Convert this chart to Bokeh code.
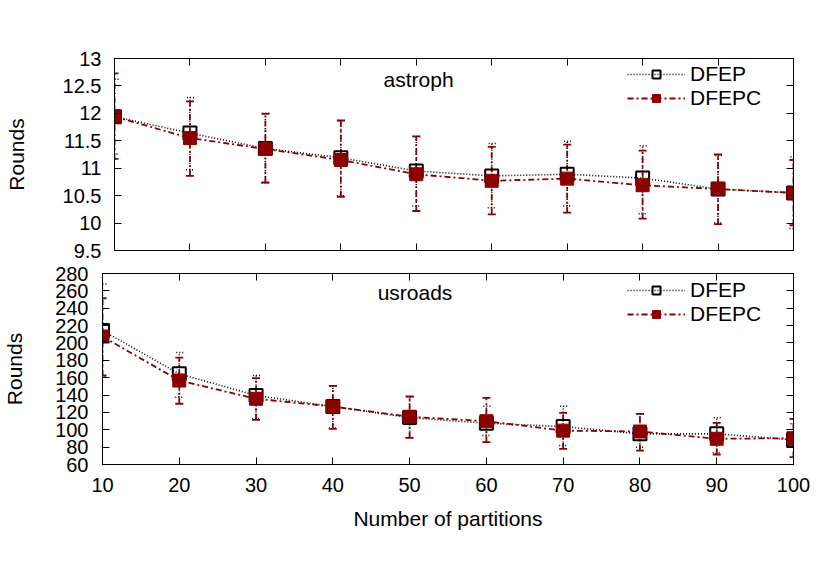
from bokeh.plotting import figure
from bokeh.models import (ColumnDataSource, Whisker, TeeHead, LinearAxis, FixedTicker,
                          CustomJSTickFormatter, Range1d, Label, Legend, LegendItem)
from bokeh.embed import file_html
from bokeh.resources import INLINE

# ---------------- data ----------------
partitions = [10, 20, 30, 40, 50, 60, 70, 80, 90, 100]
x_ticks = [10, 20, 30, 40, 50, 60, 70, 80, 90, 100]

# astroph
astro_dfep = [11.94, 11.64, 11.36, 11.19, 10.95, 10.86, 10.89, 10.82, 10.62, 10.55]
astro_dfep_hi = [12.62, 12.29, 12.00, 11.87, 11.58, 11.45, 11.49, 11.41, 11.23, 11.21]
astro_dfep_lo = [11.26, 10.97, 10.73, 10.50, 10.31, 10.28, 10.31, 10.17, 10.00, 9.90]
astro_dfepc = [11.94, 11.55, 11.35, 11.15, 10.89, 10.77, 10.81, 10.69, 10.62, 10.55]
astro_dfepc_hi = [12.73, 12.22, 11.99, 11.87, 11.58, 11.39, 11.43, 11.32, 11.25, 11.15]
astro_dfepc_lo = [11.17, 10.86, 10.74, 10.48, 10.22, 10.16, 10.19, 10.08, 9.98, 9.96]
astro_ticks = [9.5, 10, 10.5, 11, 11.5, 12, 12.5, 13]

# usroads
us_dfep = [214.3, 164.4, 139.5, 126.8, 114.0, 107.5, 103.7, 95.3, 95.3, 88.4]
us_dfep_hi = [268, 189, 162.5, 150, 138, 127, 127, 118, 113.8, 107]
us_dfep_lo = [161, 137.5, 113, 102, 91, 93.4, 81.8, 80, 73.5, 80]
us_dfepc = [207.4, 156.7, 135.7, 126.8, 115.0, 109.9, 99.0, 98.0, 89.6, 90.3]
us_dfepc_hi = [251.5, 183.2, 159.4, 150.6, 138.3, 136.8, 119.5, 118.4, 108, 112.6]
us_dfepc_lo = [162.5, 130, 111.5, 101, 90.7, 85.7, 78, 76, 71.5, 68.4]
us_ticks = [60, 80, 100, 120, 140, 160, 180, 200, 220, 240, 260, 280]

series_names = ["DFEP", "DFEPC"]

FONT = "Liberation Sans"
FS = "20px"
DARK_RED = "#8b0000"


def style_axis(ax, labels=True):
    ax.axis_line_color = "black"
    ax.axis_line_width = 1
    ax.major_tick_in = 7
    ax.major_tick_out = 0
    ax.major_tick_line_color = "black"
    ax.minor_tick_line_color = None
    ax.major_label_text_font = FONT
    ax.major_label_text_font_size = FS
    ax.major_label_text_color = "black"
    ax.axis_label_text_font = FONT
    ax.axis_label_text_font_size = "21px"
    ax.axis_label_text_font_style = "normal"
    ax.axis_label_text_color = "black"
    if labels:
        ax.formatter = CustomJSTickFormatter(code="return tick.toString();")
    else:
        ax.formatter = CustomJSTickFormatter(code="return '';")
        ax.major_label_standoff = 0


def make_panel(y_lo, y_hi, yticks, s1, s1_hi, s1_lo, s2, s2_hi, s2_lo, title, title_x, title_y,
               width, height, mb_left, mb_right, mb_top, mb_bottom, x_labels,
               ylab_standoff, ytick_standoff, legend_loc):
    p = figure(width=width, height=height, output_backend="svg",
               toolbar_location=None, x_range=Range1d(10, 100), y_range=Range1d(y_lo, y_hi),
               min_border_left=mb_left, min_border_right=mb_right, min_border_top=mb_top,
               min_border_bottom=mb_bottom, x_axis_type=None, y_axis_type=None)
    p.background_fill_color = "white"
    p.border_fill_color = "white"
    p.outline_line_color = "black"
    p.outline_line_width = 1
    p.xgrid.visible = False
    p.ygrid.visible = False

    xb = LinearAxis(ticker=FixedTicker(ticks=x_ticks))
    style_axis(xb, labels=x_labels)
    if x_labels:
        xb.axis_label = "Number of partitions"
        xb.major_label_standoff = 13
        xb.axis_label_standoff = 12
    p.add_layout(xb, "below")
    xa = LinearAxis(ticker=FixedTicker(ticks=x_ticks))
    style_axis(xa, labels=False)
    p.add_layout(xa, "above")

    yl = LinearAxis(ticker=FixedTicker(ticks=yticks), axis_label="Rounds")
    style_axis(yl, labels=True)
    yl.major_label_standoff = ytick_standoff
    yl.axis_label_standoff = ylab_standoff
    p.add_layout(yl, "left")
    yr = LinearAxis(ticker=FixedTicker(ticks=yticks))
    style_axis(yr, labels=False)
    p.add_layout(yr, "right")

    src = ColumnDataSource(dict(x=partitions, a=s1, a_hi=s1_hi, a_lo=s1_lo,
                                b=s2, b_hi=s2_hi, b_lo=s2_lo))

    w1 = Whisker(source=src, base="x", upper="a_hi", lower="a_lo", dimension="height",
                 line_color="black", line_width=1.5, line_dash="1 2", level="underlay",
                 upper_head=TeeHead(size=8, line_color="black", line_width=1.5, line_dash="1 2"),
                 lower_head=TeeHead(size=8, line_color="black", line_width=1.5, line_dash="1 2"))
    w2 = Whisker(source=src, base="x", upper="b_hi", lower="b_lo", dimension="height",
                 line_color=DARK_RED, line_width=1.8, line_dash="6 3 2 3", level="underlay",
                 upper_head=TeeHead(size=8, line_color=DARK_RED, line_width=1.8),
                 lower_head=TeeHead(size=8, line_color=DARK_RED, line_width=1.8))
    p.add_layout(w1)
    p.add_layout(w2)

    l1 = p.line("x", "a", source=src, line_color="black", line_width=1.6, line_dash="1 2")
    m1 = p.scatter("x", "a", source=src, marker="square", size=13, fill_color=None,
                   line_color="black", line_width=2)
    l2 = p.line("x", "b", source=src, line_color=DARK_RED, line_width=1.8, line_dash="6 3 2 3")
    m2 = p.scatter("x", "b", source=src, marker="square", size=13, fill_color=DARK_RED,
                   line_color=DARK_RED, line_width=1)

    legend = Legend(items=[LegendItem(label=series_names[0], renderers=[l1, m1]),
                           LegendItem(label=series_names[1], renderers=[l2, m2])],
                    location=legend_loc, label_text_font=FONT, label_text_font_size="21px",
                    label_text_color="black",
                    glyph_width=58, glyph_height=20, label_height=21, spacing=0,
                    padding=4, margin=0, background_fill_alpha=0, border_line_color=None)
    p.add_layout(legend)

    p.add_layout(Label(x=title_x, y=title_y, text=title, text_align="center",
                       text_baseline="middle", text_font=FONT, text_font_size="21px",
                       text_color="black"))
    return p


# frame targets (page px): top panel x 114-793, y 58-250; bottom panel x 102-793, y 273-464
p1 = make_panel(9.5, 13, astro_ticks, astro_dfep, astro_dfep_hi, astro_dfep_lo,
                astro_dfepc, astro_dfepc_hi, astro_dfepc_lo, "astroph", 50.3, 12.62,
                width=810, height=262, mb_left=114, mb_right=17, mb_top=58, mb_bottom=12,
                x_labels=False, ylab_standoff=32, ytick_standoff=13, legend_loc=(513, 140))
p2 = make_panel(60, 280, us_ticks, us_dfep, us_dfep_hi, us_dfep_lo,
                us_dfepc, us_dfepc_hi, us_dfepc_lo, "usroads", 50.7, 258.1,
                width=810, height=282, mb_left=102, mb_right=17, mb_top=11, mb_bottom=80,
                x_labels=True, ylab_standoff=26, ytick_standoff=14, legend_loc=(525, 138))

open("out.html", "w").write(file_html([p1, p2], INLINE))
